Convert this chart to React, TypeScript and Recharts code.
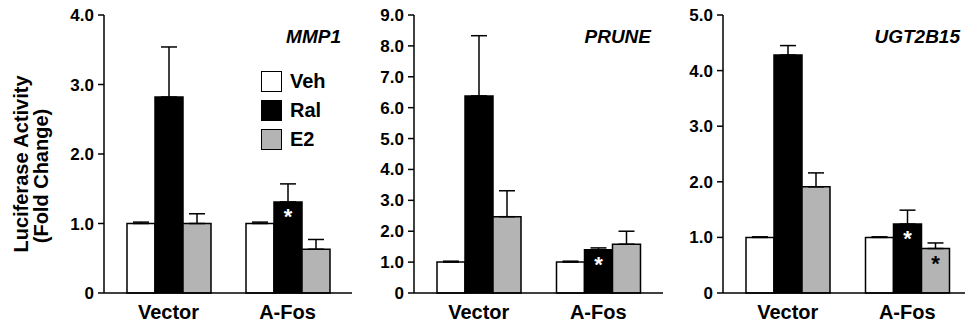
import { BarChart, Bar, XAxis, YAxis, ErrorBar, LabelList } from 'recharts'

const categories = ['Vector', 'A-Fos']

// MMP1
const mmp1Veh = [1.0, 1.0]
const mmp1Ral = [2.82, 1.31]
const mmp1E2 = [1.0, 0.63]
const mmp1VehErr = [0.02, 0.02]
const mmp1RalErr = [0.72, 0.26]
const mmp1E2Err = [0.14, 0.14]
const mmp1RalSig = [false, true]
const mmp1E2Sig = [false, false]
const mmp1Ticks = [0, 1, 2, 3, 4]

// PRUNE
const pruneVeh = [1.0, 1.0]
const pruneRal = [6.38, 1.4]
const pruneE2 = [2.47, 1.58]
const pruneVehErr = [0.03, 0.03]
const pruneRalErr = [1.95, 0.06]
const pruneE2Err = [0.84, 0.42]
const pruneRalSig = [false, true]
const pruneE2Sig = [false, false]
const pruneTicks = [0, 1, 2, 3, 4, 5, 6, 7, 8, 9]

// UGT2B15
const ugtVeh = [1.0, 1.0]
const ugtRal = [4.28, 1.24]
const ugtE2 = [1.91, 0.8]
const ugtVehErr = [0.01, 0.01]
const ugtRalErr = [0.17, 0.25]
const ugtE2Err = [0.25, 0.1]
const ugtRalSig = [false, true]
const ugtE2Sig = [false, true]
const ugtTicks = [0, 1, 2, 3, 4, 5]

const seriesNames = ['Veh', 'Ral', 'E2']
const seriesFills = ['#ffffff', '#000000', '#b4b4b4']

const font = 'Liberation Sans, Arial, Helvetica, sans-serif'
const line = { stroke: '#000', strokeWidth: 1.5 }

function buildRows(
  veh: number[], ral: number[], e2: number[],
  vehErr: number[], ralErr: number[], e2Err: number[],
  ralSig: boolean[], e2Sig: boolean[],
) {
  return categories.map((name, i) => ({
    name,
    veh: veh[i], ral: ral[i], e2: e2[i],
    vehErr: [0, vehErr[i]], ralErr: [0, ralErr[i]], e2Err: [0, e2Err[i]],
    ralSig: ralSig[i] ? '*' : '',
    e2Sig: e2Sig[i] ? '*' : '',
  }))
}

const Star = (color: string) => (p: any) => {
  if (!p.value) return null
  return (
    <text x={p.x + p.width / 2} y={p.y + 22} textAnchor="middle" fill={color}
      fontSize={22} fontWeight="bold" fontFamily={font}>
      {p.value}
    </text>
  )
}

const YLabel = () => (
  <g fontFamily={font} fontSize={20} fontWeight="bold" fill="#000">
    <text x={28} y={164} transform="rotate(-90 28 164)" textAnchor="middle">Luciferase Activity</text>
    <text x={48} y={176} transform="rotate(-90 48 176)" textAnchor="middle">(Fold Change)</text>
  </g>
)

interface PanelProps {
  left: number; width: number; axisWidth: number; right: number
  rows: any[]; ticks: number[]; yLabel?: boolean
}

function Panel({ left, width, axisWidth, right, rows, ticks, yLabel }: PanelProps) {
  const max = ticks[ticks.length - 1]
  return (
    <div style={{ position: 'absolute', left, top: 0 }}>
      <BarChart width={width} height={327} data={rows}
        margin={{ top: 15, right, left: 0, bottom: 4 }}
        barCategoryGap={18} barGap={0}>
        <XAxis dataKey="name" height={30} padding={{ left: 5, right: 5 }}
          tickLine={false} tickSize={0} tickMargin={12} axisLine={line}
          tick={{ fill: '#000', fontSize: 20, fontWeight: 'bold', fontFamily: font }} />
        <XAxis xAxisId="top" dataKey="name" orientation="top" height={0}
          tick={false} tickLine={false} axisLine={line} padding={{ left: 5, right: 5 }} />
        <YAxis width={axisWidth} domain={[0, max]} ticks={ticks} interval={0}
          tickSize={6} tickMargin={4} tickLine={line} axisLine={line}
          tickFormatter={(v: number) => (v === 0 ? '0' : v.toFixed(1))}
          tick={{ fill: '#000', fontSize: 17, fontWeight: 'bold', fontFamily: font }}
          label={yLabel ? <YLabel /> : undefined} />
        <YAxis yAxisId="right" orientation="right" width={0} domain={[0, 1]}
          tick={false} tickLine={false} axisLine={line} />
        <Bar dataKey="veh" fill={seriesFills[0]} stroke="#000" strokeWidth={1.5} isAnimationActive={false}>
          <ErrorBar dataKey="vehErr" width={8} stroke="#000" strokeWidth={1.5} direction="y" />
        </Bar>
        <Bar dataKey="ral" fill={seriesFills[1]} stroke="#000" strokeWidth={1.5} isAnimationActive={false}>
          <ErrorBar dataKey="ralErr" width={8} stroke="#000" strokeWidth={1.5} direction="y" />
          <LabelList dataKey="ralSig" content={Star('#fff')} />
        </Bar>
        <Bar dataKey="e2" fill={seriesFills[2]} stroke="#000" strokeWidth={1.5} isAnimationActive={false}>
          <ErrorBar dataKey="e2Err" width={8} stroke="#000" strokeWidth={1.5} direction="y" />
          <LabelList dataKey="e2Sig" content={Star('#000')} />
        </Bar>
      </BarChart>
    </div>
  )
}

const Gene = ({ right, text }: { right: number; text: string }) => (
  <div style={{
    position: 'absolute', right: 965 - right, top: 27, fontFamily: font, fontSize: 19,
    fontWeight: 'bold', fontStyle: 'italic', lineHeight: '19px', color: '#000', whiteSpace: 'nowrap',
  }}>{text}</div>
)

export default function App() {
  const mmp1 = buildRows(mmp1Veh, mmp1Ral, mmp1E2, mmp1VehErr, mmp1RalErr, mmp1E2Err, mmp1RalSig, mmp1E2Sig)
  const prune = buildRows(pruneVeh, pruneRal, pruneE2, pruneVehErr, pruneRalErr, pruneE2Err, pruneRalSig, pruneE2Sig)
  const ugt = buildRows(ugtVeh, ugtRal, ugtE2, ugtVehErr, ugtRalErr, ugtE2Err, ugtRalSig, ugtE2Sig)

  return (
    <div style={{
      position: 'absolute', left: 0, top: 0, width: 965, height: 327,
      overflow: 'hidden', background: '#fff',
    }}>
      <Panel left={0} width={360} axisWidth={104} right={8} rows={mmp1} ticks={mmp1Ticks} yLabel />
      <Panel left={360} width={310} axisWidth={54} right={7} rows={prune} ticks={pruneTicks} />
      <Panel left={670} width={310} axisWidth={53} right={8} rows={ugt} ticks={ugtTicks} />

      <Gene right={341} text="MMP1" />
      <Gene right={651} text="PRUNE" />
      <Gene right={960} text="UGT2B15" />

      <div style={{ position: 'absolute', left: 261, top: 71, fontFamily: font }}>
        {seriesNames.map((name, i) => (
          <div key={name} style={{ display: 'flex', alignItems: 'center', height: 21, marginBottom: 8 }}>
            <div style={{
              width: 21, height: 21, boxSizing: 'border-box', border: '1.5px solid #000',
              background: seriesFills[i],
            }} />
            <span style={{ marginLeft: 8, fontSize: 20, fontWeight: 'bold', lineHeight: '21px' }}>{name}</span>
          </div>
        ))}
      </div>
    </div>
  )
}
